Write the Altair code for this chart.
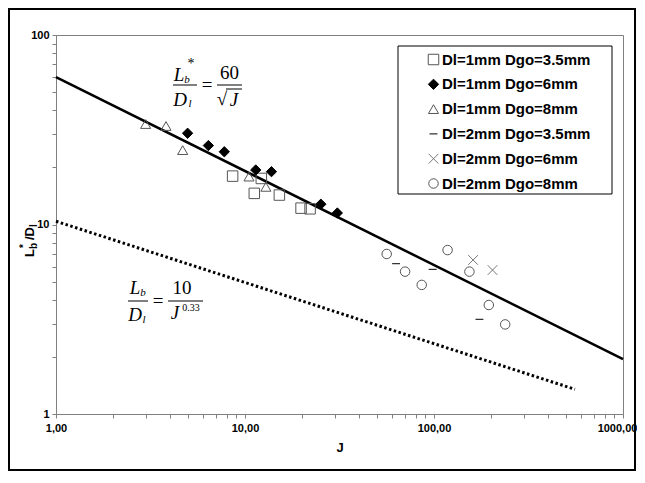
import altair as alt
import pandas as pd

# ---------------- data ----------------
series = ["Dl=1mm Dgo=3.5mm", "Dl=1mm Dgo=6mm", "Dl=1mm Dgo=8mm",
          "Dl=2mm Dgo=3.5mm", "Dl=2mm Dgo=6mm", "Dl=2mm Dgo=8mm"]

sq_J = [8.6, 11.2, 12.2, 15.2, 19.8, 22.1]
sq_y = [18.0, 14.6, 17.5, 14.3, 12.2, 12.1]
di_J = [4.97, 6.4, 7.77, 11.4, 13.8, 25.2, 30.8]
di_y = [30.3, 26.1, 24.2, 19.4, 19.0, 12.8, 11.5]
tr_J = [2.98, 3.82, 4.68, 10.5, 12.9]
tr_y = [33.9, 33.1, 24.7, 17.9, 15.8]
da_J = [63, 98.4, 174]
da_y = [6.21, 5.80, 3.16]
cr_J = [161, 204]
cr_y = [6.50, 5.75]
ci_J = [56.2, 70.3, 86.1, 118, 154, 195, 238]
ci_y = [6.99, 5.64, 4.80, 7.33, 5.64, 3.76, 2.97]

solid_J = [1, 1000]
solid_y = [60, 1.95]
dotted_J = [1, 557]
dotted_y = [10.4, 1.35]

x_ticks = [1, 2, 3, 4, 5, 6, 7, 8, 9, 10, 20, 30, 40, 50, 60, 70, 80, 90,
           100, 200, 300, 400, 500, 600, 700, 800, 900, 1000]
y_ticks = [1, 2, 3, 4, 5, 6, 7, 8, 9, 10, 20, 30, 40, 50, 60, 70, 80, 90, 100]

# ---------------- tables ----------------
rows = []
for name, Js, ys in zip(series, [sq_J, di_J, tr_J, da_J, cr_J, ci_J],
                        [sq_y, di_y, tr_y, da_y, cr_y, ci_y]):
    for j, v in zip(Js, ys):
        rows.append({"series": name, "J": j, "ratio": v})
pts = pd.DataFrame(rows)
solid_df = pd.DataFrame({"J": solid_J, "ratio": solid_y})
dotted_df = pd.DataFrame({"J": dotted_J, "ratio": dotted_y})
dummy = pd.DataFrame({"a": [0]})

W, H = 567, 379
xs = alt.Scale(type="log", domain=[1, 1000], nice=False)
ys = alt.Scale(type="log", domain=[1, 100], nice=False)

x_axis = alt.Axis(values=x_ticks, grid=False, tickSize=4, tickColor="#808080",
                  domainColor="#808080", labelFont="Liberation Sans", labelFontWeight="bold",
                  labelFontSize=11, labelColor="black", labelPadding=4, labelOverlap=False,
                  labelFlush=False, labelBound=False,
                  labelOffset={"condition": {"test": "datum.value >= 1000", "value": -6}, "value": 0},
                  labelExpr="indexof([1,10,100,1000], datum.value) >= 0 ? replace(format(datum.value, '.2f'), '.', ',') : ''",
                  title="J", titleFont="Liberation Sans", titleFontSize=13, titleFontWeight="bold",
                  titleColor="black", titlePadding=8)
y_axis = alt.Axis(values=y_ticks, grid=False, tickSize=4, tickColor="#808080",
                  domainColor="#808080", labelFont="Liberation Sans", labelFontWeight="bold",
                  labelFontSize=11, labelColor="black", labelPadding=3, labelOverlap=False,
                  labelFlush=False, labelBound=False,
                  labelExpr="indexof([1,10,100], datum.value) >= 0 ? format(datum.value, 'd') : ''",
                  title=None)

shapes = ["square", "diamond", "triangle-up", "M-0.8,0H0.8",
          "M-1,-1L1,1M-1,1L1,-1", "circle"]
fills = ["transparent", "black", "transparent", "transparent", "transparent", "transparent"]
strokes = ["#555555", "black", "#555555", "black", "#777777", "#555555"]
sizes = [110, 90, 130, 90, 70, 100]
swidths = [1, 1, 1, 2, 1, 1]

legend = alt.Legend(title=None, orient="none", legendX=370, legendY=17, padding=0,
                    labelFont="Liberation Sans", labelFontWeight="bold", labelFontSize=15,
                    labelColor="black", rowPadding=8.8, labelOffset=1, symbolSize=80,
                    labelLimit=300)

points = alt.Chart(pts).mark_point(opacity=1).encode(
    x=alt.X("J:Q", scale=xs, axis=x_axis),
    y=alt.Y("ratio:Q", scale=ys, axis=y_axis),
    shape=alt.Shape("series:N", scale=alt.Scale(domain=series, range=shapes), legend=legend),
    fill=alt.Fill("series:N", scale=alt.Scale(domain=series, range=fills), legend=legend),
    stroke=alt.Stroke("series:N", scale=alt.Scale(domain=series, range=strokes), legend=legend),
    size=alt.Size("series:N", scale=alt.Scale(domain=series, range=sizes), legend=legend),
    strokeWidth=alt.StrokeWidth("series:N", scale=alt.Scale(domain=series, range=swidths), legend=legend),
)

solid = alt.Chart(solid_df).mark_line(color="black", strokeWidth=2.5).encode(
    x=alt.X("J:Q", scale=xs), y=alt.Y("ratio:Q", scale=ys))
dotted = alt.Chart(dotted_df).mark_line(color="black", strokeWidth=3, strokeDash=[2.5, 2.5]).encode(
    x=alt.X("J:Q", scale=xs), y=alt.Y("ratio:Q", scale=ys))

# decorations: outer frame and legend box
frame = alt.Chart(dummy).mark_rect(fill="transparent", stroke="black", strokeWidth=2, clip=False).encode(
    x=alt.value(-47), x2=alt.value(579), y=alt.value(-26), y2=alt.value(435))
legend_box = alt.Chart(dummy).mark_rect(fill="white", stroke="black", strokeWidth=1).encode(
    x=alt.value(342), x2=alt.value(556), y=alt.value(11), y2=alt.value(159))


def txt(t, x, y, size, font="Liberation Serif", style="normal", weight="normal", angle=0, align="center"):
    return alt.Chart(dummy).mark_text(text=t, font=font, fontSize=size, fontStyle=style,
                                      fontWeight=weight, angle=angle, align=align,
                                      baseline="middle", color="black").encode(
        x=alt.value(x), y=alt.value(y))


def bar(x1, x2, y, w=1):
    return alt.Chart(dummy).mark_rule(color="black", strokeWidth=w).encode(
        x=alt.value(x1), x2=alt.value(x2), y=alt.value(y))


ann = [
    # formula 1: Lb*/Dl = 60/sqrt(J)
    txt("L", 123, 40, 19, style="italic"),
    txt("b", 131, 45, 11, style="italic"),
    txt("*", 135, 29, 14),
    bar(117, 141, 50),
    txt("D", 124, 65, 19, style="italic"),
    txt("l", 134, 69, 11, style="italic"),
    txt("=", 151, 50, 19),
    txt("60", 173.5, 38, 19),
    bar(161, 186, 50),
    txt("\u221a", 166, 64, 19),
    bar(170, 186, 54),
    txt("J", 178, 65, 19, style="italic"),
    # formula 2: Lb/Dl = 10/J^0.33
    txt("L", 79, 253, 19, style="italic"),
    txt("b", 87, 258, 11, style="italic"),
    bar(72, 92, 266),
    txt("D", 79, 280, 19, style="italic"),
    txt("l", 88, 285, 11, style="italic"),
    txt("=", 102, 266, 19),
    txt("10", 126, 253, 19),
    bar(112, 147, 266),
    txt("J", 119, 278, 19, style="italic"),
    txt("0.33", 135, 273, 10, align="center"),
    # y axis title: Lb*/Dl (rotated)
    txt("L", -26, 218, 13, font="Liberation Sans", weight="bold", angle=270),
    txt("b", -22, 211, 10, font="Liberation Sans", weight="bold", angle=270),
    txt("*", -32, 211, 10, font="Liberation Sans", weight="bold", angle=270),
    txt("/D", -26, 198.5, 13, font="Liberation Sans", weight="bold", angle=270),
    txt("l", -22, 190.5, 10, font="Liberation Sans", weight="bold", angle=270),
]

chart = alt.layer(frame, legend_box, dotted, solid, points, *ann).properties(
    width=W, height=H, padding={"left": 48, "top": 27, "right": 14, "bottom": 57},
    autosize=alt.AutoSizeParams(type="none"),
    background="white",
).configure_view(stroke="#808080", strokeWidth=1)

chart.save("out.html", embed_options={"renderer": "svg", "actions": False})
